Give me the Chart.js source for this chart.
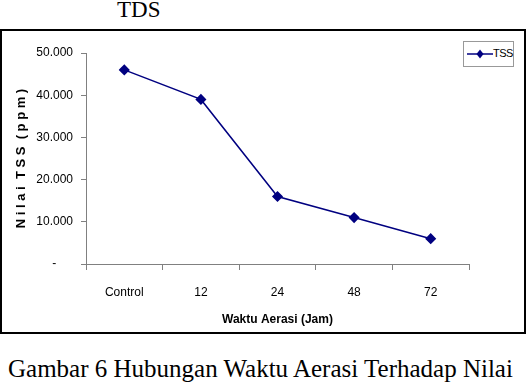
<!DOCTYPE html>
<html>
<head>
<meta charset="utf-8">
<script src="https://cdn.jsdelivr.net/npm/chart.js@4/dist/chart.umd.min.js"></script>
<style>
  body { margin: 0; width: 526px; height: 384px; background: #fff; position: relative; overflow: hidden; }
  .serif { font-family: "Liberation Serif", "Times New Roman", serif; color: #000; position: absolute; white-space: nowrap; }
  #head { left: 117px; top: -2px; font-size: 23px; line-height: 23px; }
  #caption { left: 8px; top: 356px; font-size: 25px; line-height: 25px; }
  #box { position: absolute; left: 0; top: 29px; width: 522px; height: 301px; border: 2px solid #000; }
  #wrap { position: absolute; left: 0; top: 0; width: 522px; height: 301px; }
  #legend { position: absolute; left: 461px; top: 10px; width: 49px; height: 24px; border: 1px solid #999; background: #fff;
            font-family: "Liberation Sans", Arial, sans-serif; font-size: 11px; }
  #legend svg { position: absolute; left: 3px; top: 6px; }
  #legend span { position: absolute; left: 29px; top: 5px; letter-spacing: -0.5px; }
</style>
</head>
<body>
<div id="head" class="serif">TDS</div>
<div id="box">
  <div id="wrap"><canvas id="chart"></canvas></div>
  <div id="legend">
    <svg width="26" height="12"><line x1="0" y1="6" x2="26" y2="6" stroke="#000080" stroke-width="1.5"/><polygon points="13,1.5 16.5,6 13,10.5 9.5,6" fill="#000080"/></svg>
    <span>TSS</span>
  </div>
</div>
<div id="caption" class="serif">Gambar 6 Hubungan Waktu Aerasi Terhadap Nilai</div>

<script>
/* ===== DATA ===== */
const categories = ["Control", "12", "24", "48", "72"];
const tssValues = [46000, 39000, 16000, 11000, 6000];
const yTickLabels = ["-", "10.000", "20.000", "30.000", "40.000", "50.000"];

const FONT = '"Liberation Sans", Arial, sans-serif';
const NAVY = "#000080";
const AXIS = "#808080";

/* ===== CHART ===== */
new Chart(document.getElementById("chart"), {
  type: "line",
  data: {
    labels: categories,
    datasets: [{
      label: "TSS",
      data: tssValues,
      borderColor: NAVY,
      backgroundColor: NAVY,
      borderWidth: 1.5,
      pointStyle: "rectRot",
      pointRadius: 4.5,
      pointBackgroundColor: NAVY,
      pointBorderColor: NAVY,
      tension: 0
    }]
  },
  options: {
    responsive: true,
    maintainAspectRatio: false,
    animation: false,
    layout: { padding: { top: 22, right: 55, left: 0, bottom: 0 } },
    plugins: { legend: { display: false }, tooltip: { enabled: false } },
    scales: {
      x: {
        offset: true,
        afterFit: s => { s.height = 68; },
        grid: { offset: true, drawOnChartArea: false, drawTicks: true, tickLength: 6, color: AXIS },
        border: { display: true, color: AXIS, width: 1 },
        ticks: { color: "#000", padding: 15, font: { family: FONT, size: 12 } },
        title: {
          display: true, text: "Waktu Aerasi (Jam)", color: "#000",
          font: { family: FONT, size: 12, weight: "bold" }, padding: { top: 0, bottom: 5 }
        }
      },
      y: {
        min: 0, max: 50000,
        afterFit: s => { s.width = 84; },
        grid: { drawOnChartArea: false, drawTicks: true, tickLength: 5, color: AXIS },
        border: { display: true, color: AXIS, width: 1 },
        ticks: {
          stepSize: 10000, color: "#000", padding: 8,
          font: { family: FONT, size: 12 },
          callback: (v, i) => i === 0 ? yTickLabels[0] + "     " : yTickLabels[i]
        },
        title: {
          display: true, text: "N i l a i  T S S  ( p p m )", color: "#000",
          font: { family: FONT, size: 13, weight: "bold" }, padding: { top: 12, bottom: 0 }
        }
      }
    }
  }
});
</script>
</body>
</html>
